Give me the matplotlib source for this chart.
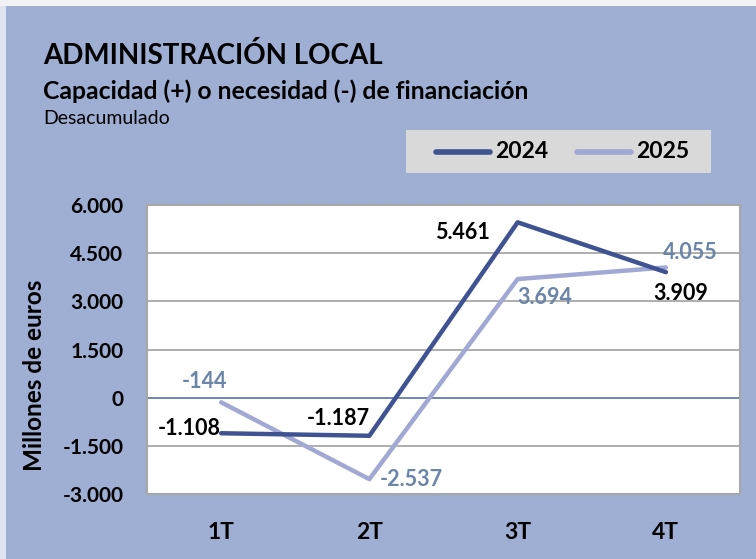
import matplotlib.pyplot as plt
from matplotlib.patches import Rectangle

plt.rcParams['font.family'] = ['Lato', 'DejaVu Sans']

quarters = ['1T', '2T', '3T', '4T']
v2024 = [-1108, -1187, 5461, 3909]
v2025 = [-144, -2537, 3694, 4055]
lab2024 = ['-1.108', '-1.187', '5.461', '3.909']
lab2025 = ['-144', '-2.537', '3.694', '4.055']
yticks = [-3000, -1500, 0, 1500, 3000, 4500, 6000]
yticklabels = ['-3.000', '-1.500', '0', '1.500', '3.000', '4.500', '6.000']

bg = '#9FAED3'
dark = '#3F5291'
light = '#A0A8D3'
lab_light = '#6A85A8'

W, H = 756, 559
fig = plt.figure(figsize=(W / 100, H / 100), dpi=100)
fig.patch.set_facecolor(bg)
# thin light strips at top and left
fig.add_artist(Rectangle((0, 1 - 6 / H), 1, 6 / H, transform=fig.transFigure,
                         facecolor='#F2F2F4', edgecolor='none'))
fig.add_artist(Rectangle((0, 0), 6 / W, 1 - 6 / H, transform=fig.transFigure,
                         facecolor='#DFE4F0', edgecolor='none'))

def px(x, y):
    return x / W, 1 - y / H

fig.text(*px(43, 55), 'ADMINISTRACIÓN LOCAL', fontsize=20, fontweight='bold', va='center')
fig.text(*px(43, 91), 'Capacidad (+) o necesidad (-) de financiación', fontsize=17.8,
         fontweight='bold', va='center')
fig.text(*px(43, 119), 'Desacumulado', fontsize=14, va='center')

# plot area
ax = fig.add_axes([147 / W, (H - 494) / H, 593 / W, 289 / H])
ax.set_facecolor('white')
x = range(len(quarters))
ax.plot(x, v2025, color=light, lw=3.2, solid_capstyle='round', zorder=3, label='2025')
ax.plot(x, v2024, color=dark, lw=3.2, solid_capstyle='round', zorder=4, label='2024')
ax.set_xlim(-0.5, 3.5)
ax.set_ylim(-3000, 6000)
ax.set_yticks(yticks)
ax.set_yticklabels(yticklabels)
ax.set_xticks(list(x))
ax.set_xticklabels(quarters)
ax.tick_params(length=0, labelsize=15)
ax.tick_params(axis='x', labelsize=16.5, pad=20)
ax.tick_params(axis='y', pad=17)
for t in ax.get_xticklabels() + ax.get_yticklabels():
    t.set_fontweight('bold')
for v in yticks:
    if v not in (0, -3000, 6000):
        ax.axhline(v, color='#A0A0A0', lw=1.2, zorder=1)
ax.axhline(0, color='#5570A8', lw=1.2, zorder=2)
for s in ax.spines.values():
    s.set_color('#A8A8A8')
    s.set_linewidth(1.5)
fig.text(*px(35, 375), 'Millones de euros', fontsize=17.5, fontweight='bold',
         rotation=90, ha='center', va='center')

# data labels (offsets in pixels -> points)
k = 0.72
off2024 = [(0, 5, 'right'), (0, 17, 'right'), (-28, -10, 'right'), (-13, -21, 'left')]
off2025 = [(-17, 21, 'center'), (10, 0, 'left'), (0, -18, 'left'), (-3, 15, 'left')]
for i in x:
    dx, dy, ha = off2024[i]
    ax.annotate(lab2024[i], (i, v2024[i]), xytext=(dx * k, dy * k), textcoords='offset points',
                ha=ha, va='center', fontsize=15.5, fontweight='bold', color='black', zorder=5)
    dx, dy, ha = off2025[i]
    ax.annotate(lab2025[i], (i, v2025[i]), xytext=(dx * k, dy * k), textcoords='offset points',
                ha=ha, va='center', fontsize=15.5, fontweight='bold', color=lab_light, zorder=5)

# legend box
fig.add_artist(Rectangle(px(406, 173), 305 / W, 43 / H, transform=fig.transFigure,
                         facecolor='#D9D9D9', edgecolor='none'))
for (x0, col, name) in [(436, dark, '2024'), (577, light, '2025')]:
    fig.add_artist(plt.Line2D([x0 / W, (x0 + 54) / W], [1 - 152 / H] * 2, color=col, lw=4,
                              solid_capstyle='round', transform=fig.transFigure))
    fig.text(*px(x0 + 59, 152), name, fontsize=16.5, fontweight='bold', va='center')

fig.savefig('out.png', dpi=100, facecolor=bg)
